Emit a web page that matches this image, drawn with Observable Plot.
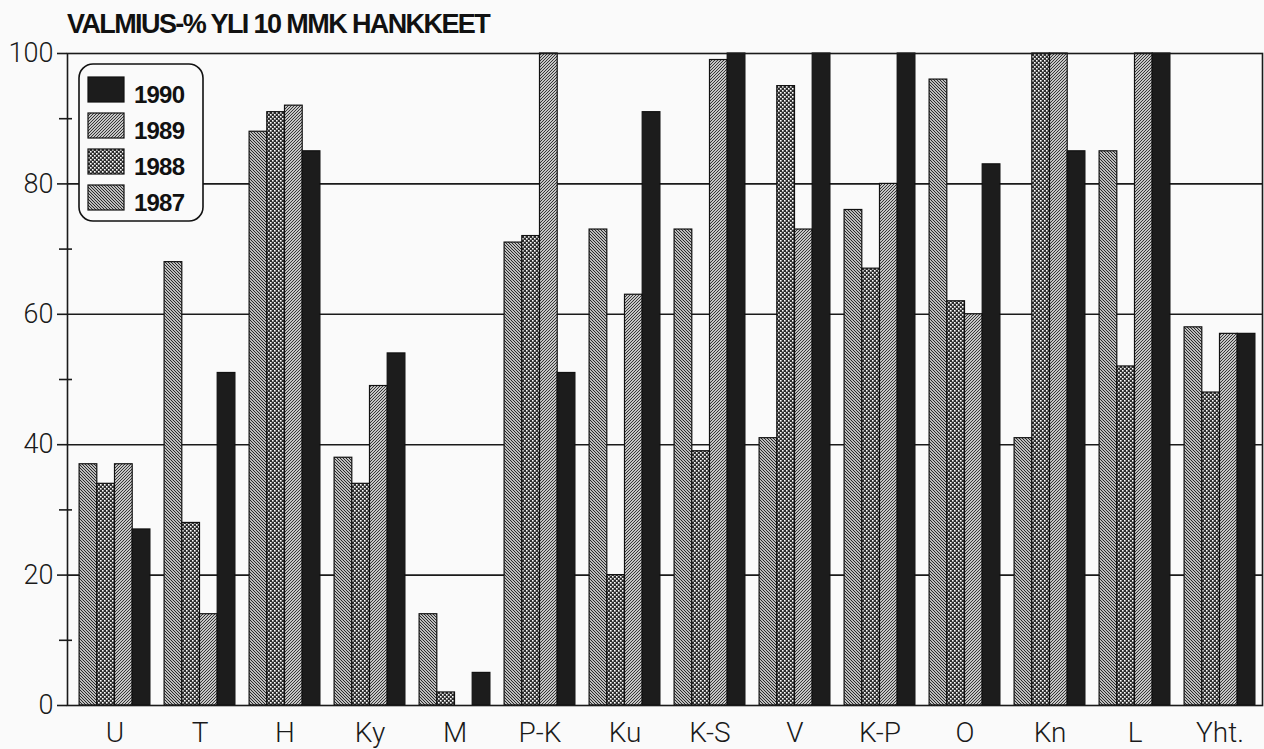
<!DOCTYPE html>
<html>
<head>
<meta charset="utf-8">
<script src="https://cdn.jsdelivr.net/npm/d3@7"></script>
<script src="https://cdn.jsdelivr.net/npm/@observablehq/plot@0.6"></script>
<style>
  html, body { margin: 0; padding: 0; background: #fafafa; }
  #wrap { position: relative; width: 1264px; height: 749px; overflow: hidden; }
  #title { position: absolute; left: 67px; top: 11px; font-family: "Liberation Sans", Arial, sans-serif;
           font-weight: bold; font-size: 27px; line-height: 27px; letter-spacing: -1.6px; color: #111; white-space: nowrap; }
  #chart { position: absolute; left: 0; top: 40px; }
  #chart svg text { font-family: Roboto, "DejaVu Sans", sans-serif; font-weight: 300; }
  #legend { position: absolute; left: 78px; top: 63px; }
</style>
</head>
<body>
<div id="wrap">
  <div id="title">VALMIUS-% YLI 10 MMK HANKKEET</div>
  <div id="chart"></div>
  <svg id="legend" width="128" height="162" xmlns="http://www.w3.org/2000/svg"></svg>
</div>
<script>
// ---- data ----
const regions = ["U", "T", "H", "Ky", "M", "P-K", "Ku", "K-S", "V", "K-P", "O", "Kn", "L", "Yht."];
const years = ["1987", "1988", "1989", "1990"];
const v1987 = [37, 68, 88, 38, 14, 71, 73, 73, 41, 76, 96, 41, 85, 58];
const v1988 = [34, 28, 91, 34, 2, 72, 20, 39, 95, 67, 62, 100, 52, 48];
const v1989 = [37, 14, 92, 49, 0, 100, 63, 99, 73, 80, 60, 100, 100, 57];
const v1990 = [27, 51, 85, 54, 5, 51, 91, 100, 100, 100, 83, 85, 100, 57];
const yMajorTicks = [0, 20, 40, 60, 80, 100];
const yMinorTicks = [10, 30, 50, 70, 90];
const gridValues = [20, 40, 60, 80];
const legendOrder = ["1990", "1989", "1988", "1987"];

const seriesByYear = { "1987": v1987, "1988": v1988, "1989": v1989, "1990": v1990 };
const table = years.flatMap(yr => regions.map((r, i) => ({ region: r, year: yr, value: seriesByYear[yr][i] })));

// ---- patterns (defined in legend svg, referenced document-wide) ----
const fills = { "1987": "url(#p1987)", "1988": "url(#p1988)", "1989": "url(#p1989)", "1990": "#1c1c1c" };
const legend = d3.select("#legend");
const defs = legend.append("defs");
const p87 = defs.append("pattern").attr("id", "p1987").attr("patternUnits", "userSpaceOnUse").attr("width", 3).attr("height", 3);
p87.append("rect").attr("width", 3).attr("height", 3).attr("fill", "#fff");
p87.append("path").attr("d", "M-1,-1L4,4M-1,2L1,4M2,-1L4,1").attr("stroke", "#222").attr("stroke-width", 1.15);
const p89 = defs.append("pattern").attr("id", "p1989").attr("patternUnits", "userSpaceOnUse").attr("width", 3).attr("height", 3);
p89.append("rect").attr("width", 3).attr("height", 3).attr("fill", "#fff");
p89.append("path").attr("d", "M-1,4L4,-1M-1,1L1,-1M2,4L4,2").attr("stroke", "#2a2a2a").attr("stroke-width", 1.05);
const p88 = defs.append("pattern").attr("id", "p1988").attr("patternUnits", "userSpaceOnUse").attr("width", 4).attr("height", 4);
p88.append("rect").attr("width", 4).attr("height", 4).attr("fill", "#2e2e2e");
p88.append("rect").attr("x", 0).attr("y", 0).attr("width", 1.6).attr("height", 1.6).attr("fill", "#fff");
p88.append("rect").attr("x", 2).attr("y", 2).attr("width", 1.6).attr("height", 1.6).attr("fill", "#fff");

// legend box
legend.append("rect").attr("x", 1).attr("y", 1).attr("width", 124).attr("height", 157).attr("rx", 14)
  .attr("fill", "#fafafa").attr("stroke", "#111").attr("stroke-width", 1.6);
legendOrder.forEach((yr, i) => {
  legend.append("rect").attr("x", 10).attr("y", 14 + i * 36).attr("width", 36).attr("height", 25)
    .attr("fill", fills[yr]).attr("stroke", "#111").attr("stroke-width", 1.2);
  legend.append("text").attr("x", 56).attr("y", 40 + i * 36).text(yr)
    .attr("font-family", "'Liberation Sans', Arial, sans-serif").attr("font-weight", "bold")
    .attr("font-size", 24).attr("letter-spacing", "-0.8px").attr("fill", "#111");
});

// ---- chart ----
const barW = 17.7, groupPad = 7.1;
const chart = Plot.plot({
  width: 1264,
  height: 709,
  marginTop: 13,
  marginBottom: 44,
  marginLeft: 67,
  marginRight: 2,
  style: { background: "transparent", color: "#1a1a1a", overflow: "visible" },
  x: { domain: regions, paddingInner: 0, paddingOuter: 0.025, align: 1, label: null },
  y: { domain: [0, 100], label: null },
  marks: [
    Plot.gridY(gridValues, { stroke: "#1a1a1a", strokeOpacity: 1, strokeWidth: 1.6 }),
    ...years.map((yr, i) => Plot.barY(table.filter(d => d.year === yr), {
      x: "region", y: "value", fill: fills[yr], stroke: "#111", strokeWidth: 1.2,
      insetLeft: groupPad + i * barW, insetRight: groupPad + (3 - i) * barW
    })),
    Plot.axisY(yMajorTicks, { tickSize: 10, tickPadding: 4, fontSize: 27, strokeWidth: 1.6, label: null }),
    Plot.axisY(yMinorTicks, { tickSize: 13, dx: 5, tickFormat: () => "", strokeWidth: 1.6, label: null }),
    Plot.axisX({ tickSize: 0, tickPadding: 17, fontSize: 28, label: null }),
    Plot.frame({ stroke: "#1a1a1a", strokeWidth: 1.6 })
  ]
});
document.getElementById("chart").appendChild(chart);
</script>
</body>
</html>
